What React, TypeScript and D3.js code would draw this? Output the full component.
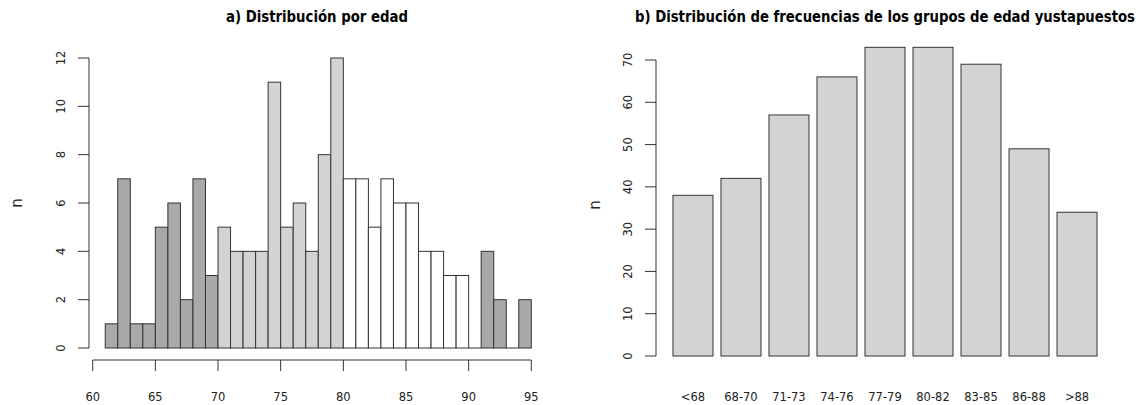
import * as d3 from "d3";

// a) individual ages (1-year bins starting at each value)
const ageBins = [61, 62, 63, 64, 65, 66, 67, 68, 69, 70, 71, 72, 73, 74, 75, 76, 77, 78, 79, 80, 81, 82, 83, 84, 85, 86, 87, 88, 89, 90, 91, 92, 93, 94];
const ageCounts = [1, 7, 1, 1, 5, 6, 2, 7, 3, 5, 4, 4, 4, 11, 5, 6, 4, 8, 12, 7, 7, 5, 7, 6, 6, 4, 4, 3, 3, 0, 4, 2, 0, 2];
const ageXTicks = [60, 65, 70, 75, 80, 85, 90, 95];
const ageYTicks = [0, 2, 4, 6, 8, 10, 12];

// b) grouped ages
const groups = ["<68", "68-70", "71-73", "74-76", "77-79", "80-82", "83-85", "86-88", ">88"];
const groupCounts = [38, 42, 57, 66, 73, 73, 69, 49, 34];
const groupYTicks = [0, 10, 20, 30, 40, 50, 60, 70];

const ink = "#333";
const font = "'DejaVu Sans', 'Liberation Sans', sans-serif";
const titleFont = "'Liberation Sans Narrow', 'DejaVu Sans Condensed', 'Liberation Sans', sans-serif";

function binFill(age: number) {
  if (age < 70 || age > 90) return "#A9A9A9";
  if (age < 80) return "#D3D3D3";
  return "#FFFFFF";
}

const LeftPlot = () => {
  const x = d3.scaleLinear().domain([60, 95]).range([92.7, 531.3]);
  const y = d3.scaleLinear().domain([0, 12]).range([348, 58]);
  const axisY = 360;
  const axisX = 89;
  return (
    <g>
      <text x={317} y={22} textAnchor="middle" fontFamily={titleFont} fontWeight="bold" fontSize={15}
        textLength={182} lengthAdjust="spacingAndGlyphs">
        a) Distribución por edad
      </text>
      {ageBins.map((b, i) =>
        ageCounts[i] > 0 ? (
          <rect key={b} x={x(b)} y={y(ageCounts[i])} width={x(b + 1) - x(b)}
            height={y(0) - y(ageCounts[i])} fill={binFill(b)} stroke={ink} strokeWidth={1} />
        ) : (
          <line key={b} x1={x(b)} x2={x(b + 1)} y1={y(0)} y2={y(0)} stroke={ink} />
        )
      )}
      <line x1={axisX} x2={axisX} y1={y(0)} y2={y(12)} stroke={ink} />
      {ageYTicks.map((t) => (
        <g key={t}>
          <line x1={axisX - 11} x2={axisX} y1={y(t)} y2={y(t)} stroke={ink} />
          <text transform={`translate(${axisX - 24},${y(t)}) rotate(-90)`} textAnchor="middle"
            fontFamily={font} fontSize={11.5} fill="#222">{t}</text>
        </g>
      ))}
      <line x1={x(60)} x2={x(95)} y1={axisY} y2={axisY} stroke={ink} />
      {ageXTicks.map((t) => (
        <g key={t}>
          <line x1={x(t)} x2={x(t)} y1={axisY} y2={axisY + 11} stroke={ink} />
          <text x={x(t)} y={401} textAnchor="middle" fontFamily={font} fontSize={11.5} fill="#222">{t}</text>
        </g>
      ))}
      <text transform={`translate(22,203) rotate(-90)`} textAnchor="middle" fontFamily={font} fontSize={15} fill="#222">n</text>
    </g>
  );
};

const RightPlot = () => {
  // barplot units: bar i spans [0.2 + 1.2 i, 1.2 + 1.2 i]
  const x = d3.scaleLinear().domain([-0.224, 11.224]).range([656, 1114]);
  const y = d3.scaleLinear().domain([0, 70]).range([356, 60]);
  const axisX = 656;
  return (
    <g>
      <text x={885} y={22} textAnchor="middle" fontFamily={titleFont} fontWeight="bold" fontSize={15}
        textLength={500} lengthAdjust="spacingAndGlyphs">
        b) Distribución de frecuencias de los grupos de edad yustapuestos
      </text>
      {groups.map((g, i) => {
        const l = 0.2 + 1.2 * i;
        return (
          <g key={g}>
            <rect x={x(l)} y={y(groupCounts[i])} width={x(l + 1) - x(l)} height={y(0) - y(groupCounts[i])}
              fill="#D3D3D3" stroke={ink} strokeWidth={1} />
            <text x={x(l + 0.5)} y={401} textAnchor="middle" fontFamily={font} fontSize={11.5} fill="#222">{g}</text>
          </g>
        );
      })}
      <line x1={axisX} x2={axisX} y1={y(0)} y2={y(70)} stroke={ink} />
      {groupYTicks.map((t) => (
        <g key={t}>
          <line x1={axisX - 11} x2={axisX} y1={y(t)} y2={y(t)} stroke={ink} />
          <text transform={`translate(${axisX - 24},${y(t)}) rotate(-90)`} textAnchor="middle"
            fontFamily={font} fontSize={11.5} fill="#222">{t}</text>
        </g>
      ))}
      <text transform={`translate(600,205) rotate(-90)`} textAnchor="middle" fontFamily={font} fontSize={15} fill="#222">n</text>
    </g>
  );
};

export default function App() {
  return (
    <svg width={1143} height={405} style={{ position: "absolute", left: 0, top: 0, background: "#fff" }}>
      <rect width={1143} height={405} fill="#fff" />
      <LeftPlot />
      <RightPlot />
    </svg>
  );
}
